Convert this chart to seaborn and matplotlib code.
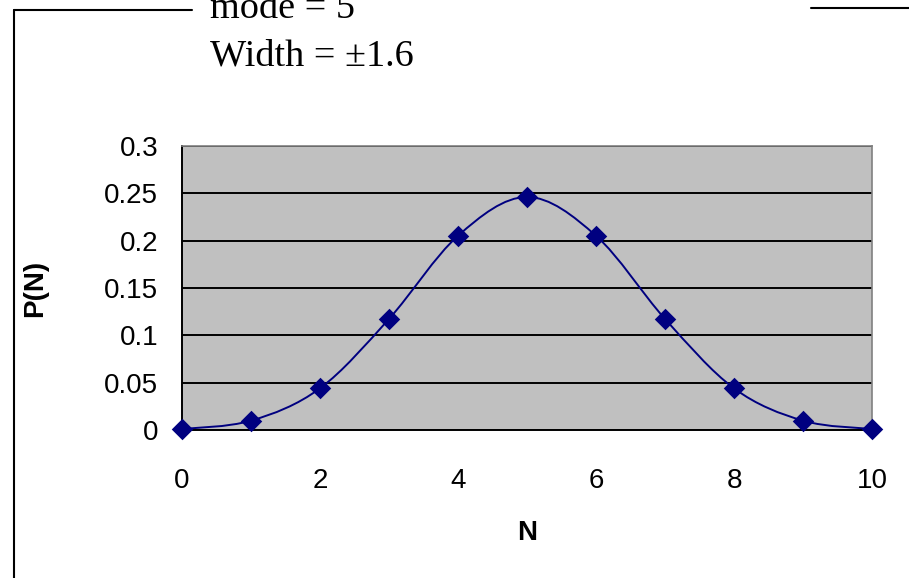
import numpy as np
import pandas as pd
import matplotlib
matplotlib.use("Agg")
import matplotlib.pyplot as plt
from matplotlib.path import Path
from matplotlib.patches import PathPatch
from matplotlib.lines import Line2D
from matplotlib.ticker import FuncFormatter
import seaborn as sns

# Values
n_values = [0, 1, 2, 3, 4, 5, 6, 7, 8, 9, 10]
p_values = [0.001, 0.0098, 0.0439, 0.1172, 0.2051, 0.2461, 0.2051, 0.1172, 0.0439, 0.0098, 0.001]
x_ticks = [0, 2, 4, 6, 8, 10]
y_ticks = [0, 0.05, 0.1, 0.15, 0.2, 0.25, 0.3]
title_lines = ["mode = 5", "Width = \u00b11.6"]

NAVY = "#000080"
PLOT_BG = "#C0C0C0"


def smooth_path(xs, ys):
    """Excel-style smoothed line: cubic Bezier through the data points."""
    pts = np.column_stack([xs, ys]).astype(float)
    verts = [pts[0]]
    codes = [Path.MOVETO]
    last = len(pts) - 1
    for i in range(last):
        p0 = pts[max(i - 1, 0)]
        p1 = pts[i]
        p2 = pts[i + 1]
        p3 = pts[min(i + 2, last)]
        verts += [p1 + (p2 - p0) / 6, p2 - (p3 - p1) / 6, p2]
        codes += [Path.CURVE4] * 3
    return Path(verts, codes)


sns.set_style("white")
plt.rcParams['font.family'] = ['Liberation Sans', 'DejaVu Sans']
plt.rcParams['text.color'] = 'black'
plt.rcParams['axes.labelcolor'] = 'black'
plt.rcParams['xtick.color'] = 'black'
plt.rcParams['ytick.color'] = 'black'

df = pd.DataFrame({"N": n_values, "P": p_values})

fig = plt.figure(figsize=(9.09, 5.78), dpi=100)
ax = fig.add_axes([181.7 / 909, 148 / 578, 690.6 / 909, 284 / 578])
ax.set_facecolor(PLOT_BG)

# smoothed curve + diamond markers
ax.add_patch(PathPatch(smooth_path(df["N"], df["P"]), facecolor="none",
                       edgecolor=NAVY, lw=1.4, zorder=3))
sns.scatterplot(data=df, x="N", y="P", marker="D", s=120, color=NAVY,
                edgecolor=NAVY, linewidth=0, ax=ax, zorder=4, clip_on=False)

ax.set_xlim(0, 10)
ax.set_ylim(0, 0.3)
ax.set_xticks(x_ticks)
ax.set_yticks(y_ticks)
ax.yaxis.set_major_formatter(FuncFormatter(lambda v, _: f"{v:g}"))
ax.grid(axis="y", color="black", lw=1.4)
ax.grid(axis="x", visible=False)
ax.set_axisbelow(True)

ax.tick_params(axis="both", labelsize=20, colors="black", direction="out")
ax.tick_params(axis="y", length=6, width=1.2, pad=11)
ax.tick_params(axis="x", length=7, width=1.2, pad=20)
xt = ax.xaxis.get_major_ticks()
xt[0].tick1line.set_visible(False)
xt[-1].tick1line.set_visible(False)

for side in ["left", "bottom"]:
    ax.spines[side].set_color("black")
    ax.spines[side].set_linewidth(1.4)
for side in ["top", "right"]:
    ax.spines[side].set_color("#808080")
    ax.spines[side].set_linewidth(1.2)

ax.set_xlabel("N", fontsize=20, fontweight="bold", color="black")
ax.set_ylabel("P(N)", fontsize=20, fontweight="bold", color="black")
ax.xaxis.set_label_coords(0.5, -0.363)
ax.yaxis.set_label_coords(-0.212, 0.5)
ax.xaxis.label.set_va("center")
ax.yaxis.label.set_va("center")

# chart frame broken by the title
fig.add_artist(Line2D([14 / 909, 192 / 909], [1 - 10 / 578, 1 - 10 / 578],
                      color="black", lw=1.5, transform=fig.transFigure))
fig.add_artist(Line2D([14 / 909, 14 / 909], [1 - 10 / 578, 0],
                      color="black", lw=1.5, transform=fig.transFigure))
fig.add_artist(Line2D([811 / 909, 1.0], [1 - 8 / 578, 1 - 8 / 578],
                      color="black", lw=1.5, transform=fig.transFigure))

for line, base_y in zip(title_lines, [18, 65]):
    fig.text(210 / 909, 1 - base_y / 578, line, fontsize=27.5, color="black",
             family=['Liberation Serif', 'DejaVu Serif'], ha="left", va="baseline")

fig.savefig("out.png", dpi=100)
plt.close(fig)
